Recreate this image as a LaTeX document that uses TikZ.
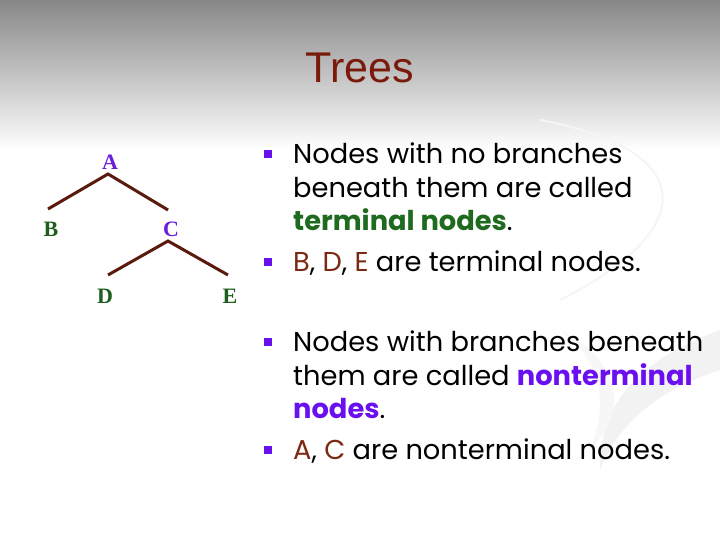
\documentclass[tikz,border=0pt]{standalone}
\usepackage{fontspec}
\setmainfont{Poppins}
\newfontfamily\titlefont{Liberation Sans}
\newfontfamily\treefont{Liberation Serif}
\definecolor{titlebrown}{HTML}{7A1A0A}
\definecolor{edgebrown}{HTML}{5A1A0E}
\definecolor{nodepurple}{HTML}{6A1FD8}
\definecolor{nodegreen}{HTML}{1E5E1E}
\definecolor{letterbrown}{HTML}{7A2A12}
\definecolor{bulletpurple}{HTML}{6A10F0}
\definecolor{termgreen}{HTML}{1E6A1E}
\begin{document}
\begin{tikzpicture}[x=1pt,y=-1pt,
  edge/.style={draw=edgebrown,line width=3pt},
  tlabel/.style={font=\treefont\bfseries\fontsize{22}{24}\selectfont,inner sep=0pt},
  txt/.style={anchor=base west,inner sep=0pt,font=\fontsize{27.3}{30}\selectfont},
  bul/.style={fill=bulletpurple,minimum size=8.5pt,inner sep=0pt}]
\useasboundingbox (0,0) rectangle (720,540);
\fill[white] (0,0) rectangle (720,540);
\shade[top color=black!47,bottom color=white] (0,0) rectangle (720,150);
% faint background swooshes
\draw[black!4,line width=2pt] (540,120) .. controls (700,150) and (700,230) .. (560,300);
\fill[black!5] (720,330) .. controls (640,360) and (600,400) .. (600,470) .. controls (620,420) and (660,390) .. (720,370) -- cycle;
\fill[black!3] (560,330) .. controls (600,360) and (610,400) .. (590,450) .. controls (630,410) and (620,360) .. (560,330) -- cycle;
% title
\node[font=\titlefont\fontsize{43}{48}\selectfont,text=titlebrown] (title) at (360,68) {Trees};
% tree
\node[tlabel,text=nodepurple] (A) at (110,162) {A};
\node[tlabel,text=nodegreen] (B) at (51,229) {B};
\node[tlabel,text=nodepurple] (C) at (171,229) {C};
\node[tlabel,text=nodegreen] (D) at (105,296) {D};
\node[tlabel,text=nodegreen] (E) at (230,296) {E};
\coordinate (a) at (108,174);
\coordinate (c) at (168,241);
\draw[edge] (48,209) -- (a) -- (168,210);
\draw[edge] (108,275) -- (c) -- (228,275);
% bullets
\node[bul] (b1) at (268,154) {};
\node[bul] (b2) at (268,262) {};
\node[bul] (b3) at (268,342) {};
\node[bul] (b4) at (268,450) {};
\node[txt] (l1) at (293,164) {Nodes with no branches};
\node[txt] (l2) at (293,197) {beneath them are called};
\node[txt] (l3) at (293,230) {\textcolor{termgreen}{\bfseries terminal nodes}.};
\node[txt] (l4) at (293,271) {\textcolor{letterbrown}{B}, \textcolor{letterbrown}{D}, \textcolor{letterbrown}{E} are terminal nodes.};
\node[txt] (l5) at (293,351) {Nodes with branches beneath};
\node[txt] (l6) at (293,385) {them are called \textcolor{bulletpurple}{\bfseries nonterminal}};
\node[txt] (l7) at (293,418) {\textcolor{bulletpurple}{\bfseries nodes}.};
\node[txt] (l8) at (293,459) {\textcolor{letterbrown}{A}, \textcolor{letterbrown}{C} are nonterminal nodes.};
\end{tikzpicture}
\end{document}
